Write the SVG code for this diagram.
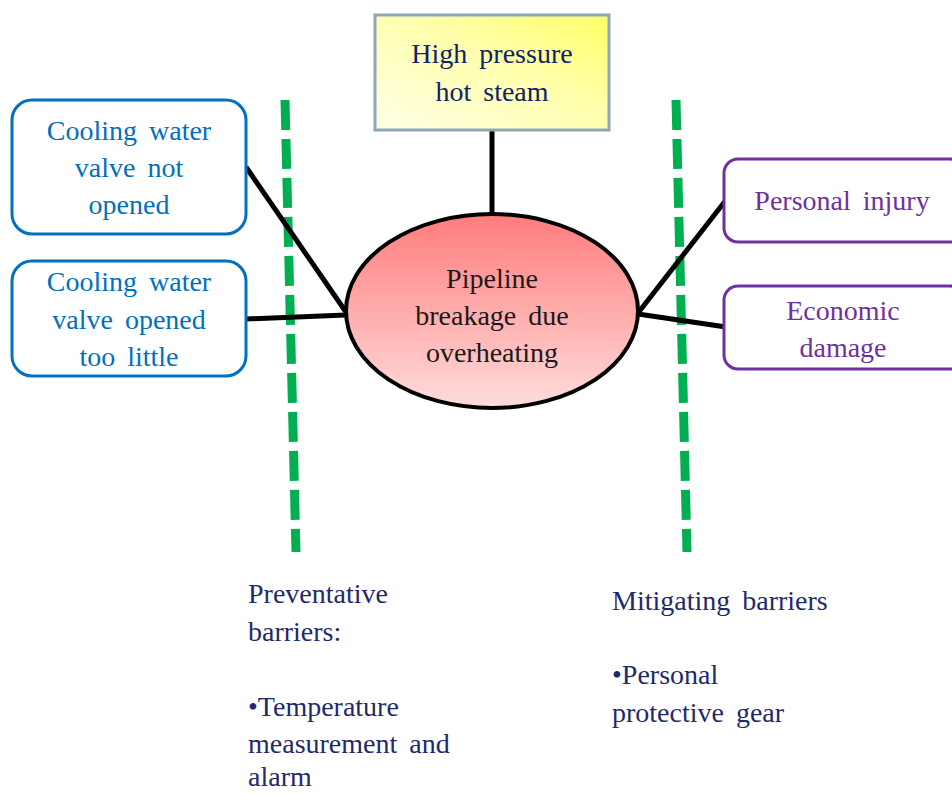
<svg xmlns="http://www.w3.org/2000/svg" width="952" height="794" viewBox="0 0 952 794" font-family="'Liberation Serif', 'DejaVu Serif', serif">
  <defs>
    <linearGradient id="gradSteam" x1="0" y1="1" x2="1" y2="0">
      <stop offset="0" stop-color="#FFFFE8"/>
      <stop offset="0.6" stop-color="#FFFFA8"/>
      <stop offset="1" stop-color="#FFFF66"/>
    </linearGradient>
    <linearGradient id="gradEvent" x1="0" y1="0" x2="0" y2="1">
      <stop offset="0" stop-color="#FF7C7C"/>
      <stop offset="1" stop-color="#FFDCDC"/>
    </linearGradient>
    <style>
      text { font-family: 'Liberation Serif', 'DejaVu Serif', serif; font-size: 28px; }
      .cause rect { fill: #FFFFFF; stroke: #0070C0; stroke-width: 3; }
      .cause text { fill: #0070C0; text-anchor: middle; word-spacing: 5px; }
      .conseq rect { fill: #FFFFFF; stroke: #7030A0; stroke-width: 3; }
      .conseq text { fill: #7030A0; text-anchor: middle; word-spacing: 5px; }
      .hazard text { fill: #0E2466; text-anchor: middle; word-spacing: 5px; }
      .event text { fill: #1A1A1A; text-anchor: middle; word-spacing: 5px; }
      .barrier { stroke: #00B050; stroke-width: 9; stroke-dasharray: 30 9; fill: none; }
      .link { stroke: #000000; stroke-width: 5; fill: none; }
      .note text { fill: #1F2A6B; word-spacing: 5px; }
    </style>
  </defs>

  <rect width="952" height="794" fill="#FFFFFF"/>

  <!-- barrier lines -->
  <g id="barriers">
    <line class="barrier" x1="285" y1="100" x2="296" y2="552"/>
    <line class="barrier" x1="676" y1="100" x2="687" y2="552"/>
  </g>

  <!-- connectors -->
  <g id="connectors">
    <line class="link" x1="246" y1="167" x2="346" y2="312"/>
    <line class="link" x1="246" y1="319" x2="346" y2="315"/>
    <line class="link" x1="492" y1="130" x2="492" y2="213"/>
    <line class="link" x1="638" y1="313" x2="726" y2="200"/>
    <line class="link" x1="638" y1="314" x2="726" y2="327"/>
  </g>

  <g id="hazard" class="hazard">
    <rect x="375" y="15" width="234" height="115" fill="url(#gradSteam)" stroke="#8DA6B8" stroke-width="3"/>
    <text x="492" y="63">High pressure</text>
    <text x="492" y="101">hot steam</text>
  </g>

  <g id="cause-not-opened" class="cause">
    <rect x="12" y="100" width="234" height="134" rx="20"/>
    <text x="129" y="140">Cooling water</text>
    <text x="129" y="177">valve not</text>
    <text x="129" y="214">opened</text>
  </g>

  <g id="cause-too-little" class="cause">
    <rect x="12" y="261" width="234" height="115" rx="20"/>
    <text x="129" y="291">Cooling water</text>
    <text x="129" y="329">valve opened</text>
    <text x="129" y="366">too little</text>
  </g>

  <g id="top-event" class="event">
    <ellipse cx="492" cy="311" rx="146" ry="97" fill="url(#gradEvent)" stroke="#000000" stroke-width="4"/>
    <text x="492" y="288">Pipeline</text>
    <text x="492" y="325">breakage due</text>
    <text x="492" y="362">overheating</text>
  </g>

  <g id="conseq-injury" class="conseq">
    <rect x="724" y="159" width="240" height="83" rx="14"/>
    <text x="842" y="210">Personal injury</text>
  </g>

  <g id="conseq-economic" class="conseq">
    <rect x="724" y="286" width="240" height="83" rx="14"/>
    <text x="843" y="320">Economic</text>
    <text x="843" y="357">damage</text>
  </g>

  <g id="note-preventative" class="note">
    <text x="248" y="603">Preventative</text>
    <text x="248" y="641">barriers:</text>
    <text x="248" y="716">•Temperature</text>
    <text x="248" y="753">measurement and</text>
    <text x="248" y="786">alarm</text>
  </g>

  <g id="note-mitigating" class="note">
    <text x="612" y="610">Mitigating barriers</text>
    <text x="612" y="684">•Personal</text>
    <text x="612" y="722">protective gear</text>
  </g>
</svg>
